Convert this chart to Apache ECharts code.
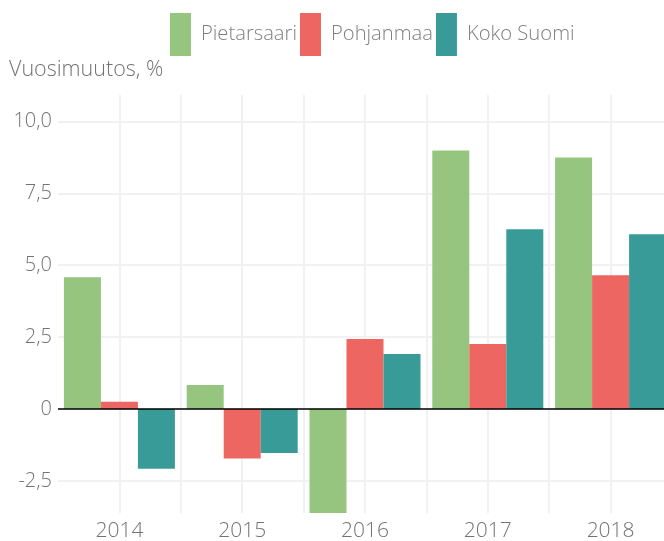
<!DOCTYPE html>
<html>
<head>
<meta charset="utf-8">
<script src="https://cdn.jsdelivr.net/npm/echarts@6/dist/echarts.min.js"></script>
<style>
  html, body { margin: 0; padding: 0; background: #fff; }
  #chart { width: 664px; height: 541px; }
</style>
</head>
<body>
<div id="chart"></div>
<script>
// data
const years = ['2014', '2015', '2016', '2017', '2018'];
const pietarsaari = [4.58, 0.83, -4.2, 8.99, 8.75];
const pohjanmaa = [0.25, -1.72, 2.43, 2.26, 4.65];
const kokoSuomi = [-2.08, -1.53, 1.91, 6.25, 6.08];
const yTicks = [-2.5, 0, 2.5, 5, 7.5, 10];

const fontFamily = '"Open Sans", Lato, sans-serif';
const textColor = '#737373';

const chart = echarts.init(document.getElementById('chart'));

function bar(name, data, color) {
  return {
    name: name,
    type: 'bar',
    data: data,
    barWidth: 37,
    barGap: '0%',
    itemStyle: { color: color },
  };
}

const series = [
  bar('Pietarsaari', pietarsaari, '#95c57e'),
  bar('Pohjanmaa', pohjanmaa, '#ee6661'),
  bar('Koko Suomi', kokoSuomi, '#389b98'),
];
// zero line
series[2].markLine = {
  silent: true,
  symbol: 'none',
  label: { show: false },
  lineStyle: { color: '#000', width: 1.5, type: 'solid' },
  data: [{ yAxis: 0 }],
};

const option = {
  animation: false,
  backgroundColor: '#fff',
  textStyle: { fontFamily: fontFamily, fontWeight: 300 },
  title: {
    text: 'Vuosimuutos, %',
    left: 9,
    top: 59,
    padding: 0,
    textStyle: { fontSize: 21.5, fontWeight: 300, color: textColor, fontFamily: fontFamily },
  },
  legend: {
    left: 170,
    top: 13,
    padding: 0,
    itemWidth: 21,
    itemHeight: 43,
    itemGap: 3,
    icon: 'rect',
    textStyle: { fontSize: 20.2, fontWeight: 300, color: '#808080', padding: [0, 0, 0, 5], fontFamily: fontFamily },
    data: ['Pietarsaari', 'Pohjanmaa', 'Koko Suomi'],
  },
  // the plot runs a little past the right edge of the canvas
  grid: { left: 58, width: 614, top: 95, bottom: 28, outerBoundsMode: 'none' },
  xAxis: [
    {
      type: 'category',
      data: years,
      axisLine: { show: false },
      axisTick: { show: false },
      splitLine: { show: false },
      axisLabel: { fontSize: 21, fontWeight: 300, color: textColor, margin: 8 },
    },
    {
      type: 'value',
      min: 0,
      max: 5,
      interval: 0.5,
      axisLine: { show: false },
      axisTick: { show: false },
      axisLabel: { show: false },
      splitLine: { show: true, showMinLine: false, showMaxLine: false, lineStyle: { color: '#f1f1f1', width: 2 } },
    },
  ],
  yAxis: {
    type: 'value',
    min: -3.62,
    max: 10.92,
    axisLine: { show: false },
    axisTick: { show: false, customValues: yTicks },
    axisLabel: {
      customValues: yTicks,
      fontSize: 20,
      fontWeight: 300,
      color: textColor,
      margin: 6,
      formatter: (v) => (v === 0 ? '0' : v.toFixed(1).replace('.', ',')),
    },
    splitLine: { show: true, lineStyle: { color: '#f1f1f1', width: 2 } },
  },
  series: series,
};

chart.setOption(option);
</script>
</body>
</html>
